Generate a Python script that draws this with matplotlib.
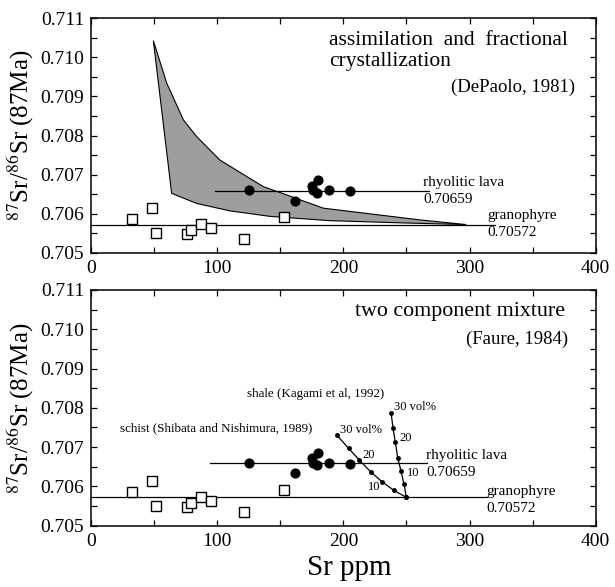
import matplotlib
matplotlib.use("Agg")
import matplotlib.pyplot as plt
from matplotlib.ticker import MultipleLocator

plt.rcParams['font.family'] = ['Liberation Serif', 'DejaVu Serif']
plt.rcParams['mathtext.fontset'] = 'stix'

# granophyre samples (open squares)
grano_sr = [32.7, 48.1, 51.3, 76.3, 79.3, 87.0, 95.4, 121.3, 153.2]
grano_ratio = [0.70586, 0.70614, 0.70550, 0.70547, 0.70558, 0.70574, 0.70564, 0.70534, 0.70591]

# rhyolitic lava samples (filled circles)
rhyo_sr = [125.5, 161.9, 174.9, 179.7, 176.2, 178.9, 188.9, 205.3]
rhyo_ratio = [0.70660, 0.70633, 0.70672, 0.70686, 0.70660, 0.70654, 0.70660, 0.70657]

# reference lines: (x start, x end) in each panel
rhyo_value = 0.70659
grano_value = 0.70572
rhyo_line_top = [98, 268]
grano_line_top = [0, 320]
rhyo_line_bot = [94, 266]
grano_line_bot = [0, 314]

# AFC band (DePaolo, 1981)
afc_upper_x = [49.4, 60.0, 73.2, 83.8, 102.2, 136.6, 149.8, 184.1, 260.7, 297.4]
afc_upper_y = [0.71043, 0.70934, 0.70840, 0.70797, 0.70737, 0.70669, 0.70654, 0.70614, 0.70584, 0.70572]
afc_lower_x = [63.9, 83.8, 110.2, 141.9, 189.4, 250.0, 297.4]
afc_lower_y = [0.70652, 0.70626, 0.70607, 0.70593, 0.70582, 0.70576, 0.70572]

# two component mixing curves, 0-30 vol% in 5% steps (30 first)
schist_sr = [194.7, 204.1, 212.7, 221.7, 230.6, 240.1, 250.0]
schist_ratio = [0.70731, 0.70697, 0.70667, 0.70637, 0.70612, 0.70590, 0.70572]
shale_sr = [237.8, 239.4, 241.2, 243.1, 245.7, 248.1, 250.0]
shale_ratio = [0.70788, 0.70748, 0.70712, 0.70673, 0.70639, 0.70605, 0.70572]

fig = plt.figure(figsize=(6.15, 5.87), dpi=100)
ax1 = fig.add_axes([0.148, 0.5695, 0.8206, 0.3993])
ax2 = fig.add_axes([0.148, 0.1044, 0.8206, 0.4016])


def style_axes(ax):
    ax.set_xlim(0, 400)
    ax.set_ylim(0.705, 0.711)
    ax.xaxis.set_major_locator(MultipleLocator(100))
    ax.xaxis.set_minor_locator(MultipleLocator(50))
    ax.yaxis.set_major_locator(MultipleLocator(0.001))
    ax.yaxis.set_minor_locator(MultipleLocator(0.0005))
    ax.yaxis.set_major_formatter(plt.FormatStrFormatter('%.3f'))
    ax.tick_params(which='both', direction='in', top=True, right=True,
                   length=4, width=0.9, labelsize=14, pad=5)
    for sp in ax.spines.values():
        sp.set_linewidth(1.1)
    ax.set_ylabel('$^{87}$Sr/$^{86}$Sr (87Ma)', fontsize=18)
    ax.yaxis.set_label_coords(-0.11, 0.5)


def plot_common(ax, rhyo_line, grano_line, rhyo_xy, grano_xy):
    ax.plot(rhyo_line, [rhyo_value, rhyo_value], color='black', lw=0.9, zorder=3)
    ax.plot(grano_line, [grano_value, grano_value], color='black', lw=0.9, zorder=3)
    ax.plot(grano_sr, grano_ratio, 's', ms=7.2, mfc='white', mec='black', mew=1.0, zorder=4)
    ax.plot(rhyo_sr, rhyo_ratio, 'o', ms=6.3, color='black', zorder=5)
    ax.text(rhyo_xy[0], rhyo_xy[1], 'rhyolitic lava', fontsize=11, va='center')
    ax.text(rhyo_xy[0], rhyo_xy[1] - 0.00042, '%.5f' % rhyo_value, fontsize=11, va='center')
    ax.text(grano_xy[0], grano_xy[1], 'granophyre', fontsize=11, va='center')
    ax.text(grano_xy[0], grano_xy[1] - 0.00043, '%.5f' % grano_value, fontsize=11, va='center')


# top panel: AFC
style_axes(ax1)
band_x = afc_upper_x + afc_lower_x[::-1]
band_y = afc_upper_y + afc_lower_y[::-1]
ax1.fill(band_x, band_y, facecolor='#9e9e9e', edgecolor='black', lw=0.8, zorder=2)
plot_common(ax1, rhyo_line_top, grano_line_top, (263.5, 0.70679), (314, 0.70594))
ax1.text(188.9, 0.71044, 'assimilation  and  fractional', fontsize=15.5, va='center')
ax1.text(188.9, 0.70989, 'crystallization', fontsize=15.5, va='center')
ax1.text(384, 0.70923, '(DePaolo, 1981)', fontsize=13.5, va='center', ha='right')

# bottom panel: two component mixture
style_axes(ax2)
plot_common(ax2, rhyo_line_bot, grano_line_bot, (265.5, 0.70678), (313, 0.70588))
for sr, ratio in [(schist_sr, schist_ratio), (shale_sr, shale_ratio)]:
    ax2.plot(sr, ratio, '-', color='black', lw=0.9, marker='o', ms=2.5, zorder=3)
ax2.text(376, 0.71045, 'two component mixture', fontsize=15.8, va='center', ha='right')
ax2.text(378, 0.70974, '(Faure, 1984)', fontsize=13.5, va='center', ha='right')
ax2.text(124, 0.70834, 'shale (Kagami et al, 1992)', fontsize=9.4, va='center')
ax2.text(23, 0.70748, 'schist (Shibata and Nishimura, 1989)', fontsize=9.4, va='center')
ax2.text(197.4, 0.70744, '30 vol%', fontsize=9, va='center')
ax2.text(240.2, 0.70801, '30 vol%', fontsize=9, va='center')
ax2.text(215.5, 0.70680, '20', fontsize=9, va='center')
ax2.text(219.5, 0.70599, '10', fontsize=9, va='center')
ax2.text(244.5, 0.70722, '20', fontsize=9, va='center')
ax2.text(250, 0.70635, '10', fontsize=9, va='center')
ax2.set_xlabel('Sr ppm', fontsize=21)
ax2.xaxis.set_label_coords(0.511, -0.123)

fig.savefig('out.png', dpi=100)
